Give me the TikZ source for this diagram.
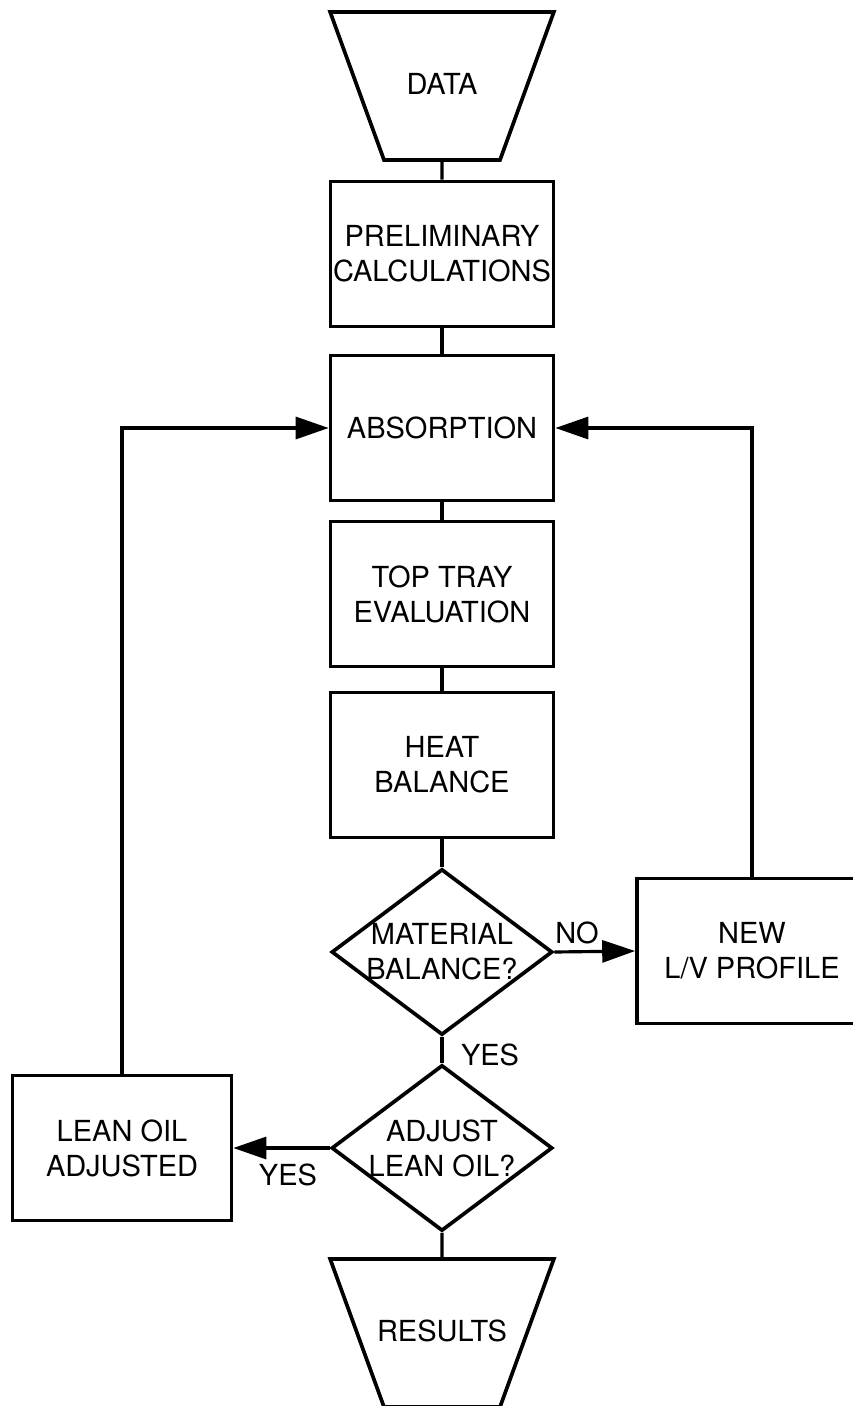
\documentclass[tikz,border=0pt]{standalone}
\usepackage{fontspec}
\setmainfont{TeX Gyre Heros}
\usetikzlibrary{shapes.geometric,arrows.meta}
\begin{document}
\begin{tikzpicture}[x=0.02cm,y=-0.02cm,
    every node/.style={font=\fontsize{16.5}{20}\selectfont, align=center},
    flowline/.style={line width=1.8pt},
    flowarrow/.style={flowline,-{Triangle[length=0.66cm,width=0.44cm]}},
    box/.style={draw,line width=2.1pt,rectangle,minimum width=4.46cm,minimum height=2.9cm,inner sep=0pt},
    ioshape/.style={draw,line width=2.1pt,trapezium,trapezium left angle=110,trapezium right angle=110,
      text width=2.9cm,text height=0.45cm,text depth=0.1cm,inner xsep=-0.29cm,inner ysep=1.205cm},
    decision/.style={draw,line width=2.1pt,diamond,minimum width=4.42cm,minimum height=3.32cm,inner sep=0pt}]
  \useasboundingbox[fill=white] (0,0) rectangle (852,1406);

  \node[ioshape] (data) at (442,86) {DATA};
  \node[box] (prelim) at (442,254) {PRELIMINARY\\CALCULATIONS};
  \node[box] (absorb) at (442,428) {ABSORPTION};
  \node[box] (toptray) at (442,594) {TOP TRAY\\EVALUATION};
  \node[box] (heat) at (442,765) {HEAT\\BALANCE};
  \node[decision,label={center:{MATERIAL\\BALANCE?}}] (matbal) at (442,952) {};
  \node[decision,label={center:{ADJUST\\LEAN OIL?}}] (adjust) at (442,1148) {};
  \node[ioshape] (results) at (442,1333) {RESULTS};
  \node[box,minimum width=4.6cm] (newprof) at (752,951) {NEW\\L/V PROFILE};
  \node[box,minimum width=4.38cm] (lean) at (122,1148) {LEAN OIL\\ADJUSTED};

  \node (nolbl) at (577,933) {NO};
  \node (yesdown) at (490,1055) {YES};
  \node (yesleft) at (288,1175) {YES};

  \draw[flowline] (data) -- (prelim);
  \draw[flowline] (prelim) -- (absorb);
  \draw[flowline] (absorb) -- (toptray);
  \draw[flowline] (toptray) -- (heat);
  \draw[flowline] (heat) -- (matbal);
  \draw[flowline] (matbal) -- (adjust);
  \draw[flowline] (adjust) -- (results);
  \draw[flowarrow] (matbal.east) -- (newprof.west);
  \draw[flowarrow] (newprof.north) |- (absorb.east);
  \draw[flowarrow] (adjust.west) -- (lean.east);
  \draw[flowarrow] (lean.north) |- (absorb.west);
\end{tikzpicture}
\end{document}
